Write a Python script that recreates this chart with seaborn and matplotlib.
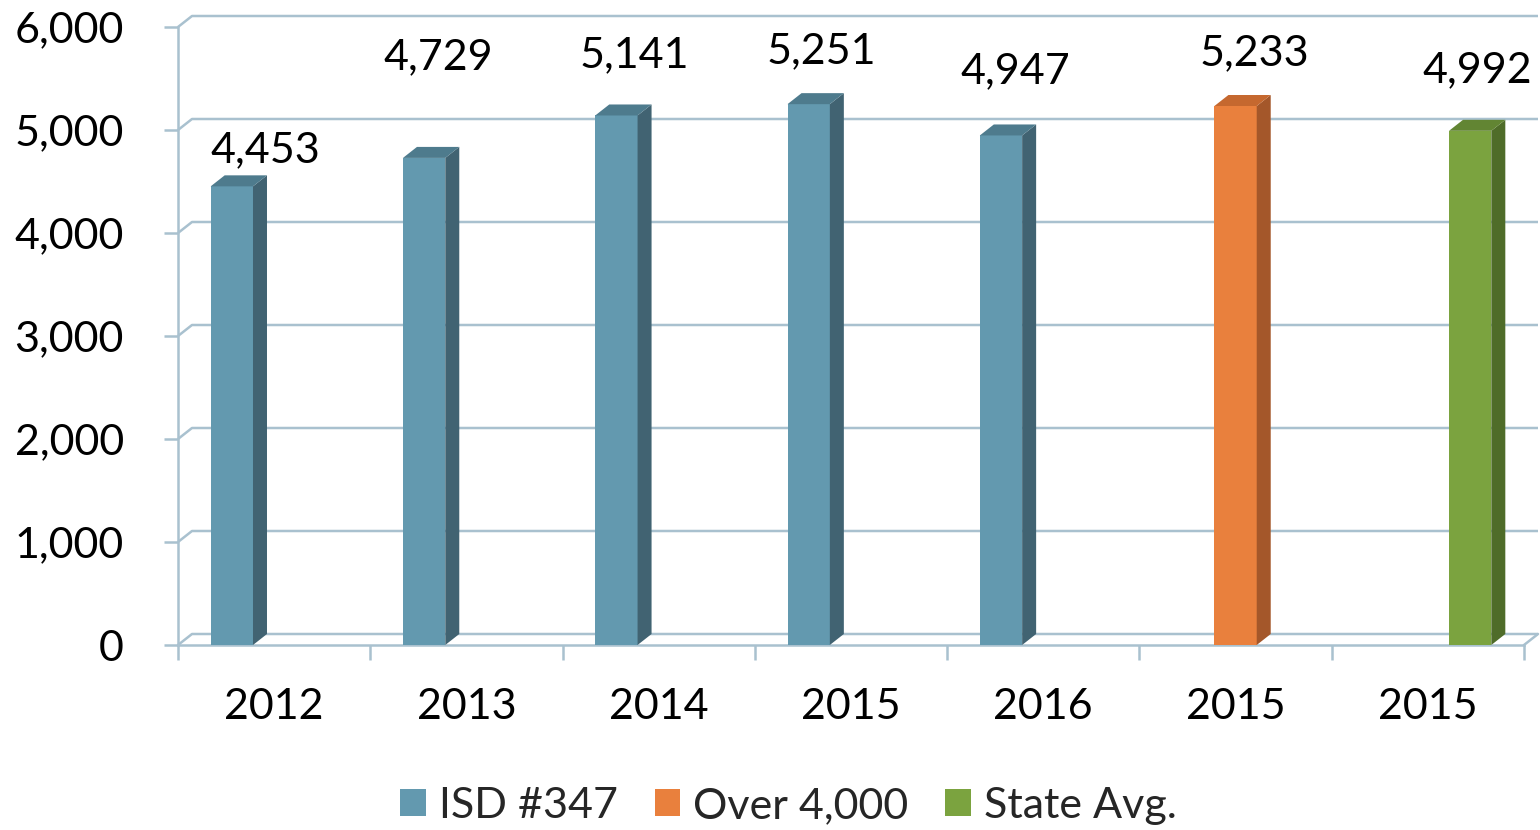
import numpy as np
import pandas as pd
import matplotlib
matplotlib.use("Agg")
import matplotlib.pyplot as plt
import matplotlib.colors as mcolors
from matplotlib.patches import Polygon
import seaborn as sns

# ---------------- data ----------------
categories = ["2012", "2013", "2014", "2015", "2016", "2015", "2015"]
series_names = ["ISD #347", "Over 4,000", "State Avg."]
bar_series = ["ISD #347", "ISD #347", "ISD #347", "ISD #347", "ISD #347",
              "Over 4,000", "State Avg."]
values = [4453, 4729, 5141, 5251, 4947, 5233, 4992]
y_ticks = [0, 1000, 2000, 3000, 4000, 5000, 6000]
y_tick_labels = ["0", "1,000", "2,000", "3,000", "4,000", "5,000", "6,000"]

# ---------------- style / layout ----------------
FRONT = {"ISD #347": "#6399AF", "Over 4,000": "#E9803D", "State Avg.": "#7BA33F"}
SIDE = {"ISD #347": "#416372", "Over 4,000": "#A4572A", "State Avg.": "#4F6C29"}
TOP = {"ISD #347": "#4E7B8D", "Over 4,000": "#C5682F", "State Avg.": "#628533"}
GRID = "#A9C1CF"
LW = 1.8
FS = 31
DEPTH_PX = (14, 11)
# label centre offsets (px) from the top-front centre of each bar
LABEL_DX_PX = [33, 14, 18, 13, 14, 19, 7]
LABEL_DY_PX = [36, 101, 60, 53, 64, 53, 61]

sns.set_theme(style="white")
plt.rcParams["font.family"] = ["Lato", "DejaVu Sans"]

W, H = 1540, 830
fig = plt.figure(figsize=(W / 100, H / 100), dpi=100)
ax = fig.add_axes([178 / W, 1 - 645 / H, (1524 - 178) / W, (645 - 27) / H])

slots = [f"s{i}" for i in range(len(categories))]
df = pd.DataFrame({"slot": slots, "series": bar_series, "value": values})
sns.barplot(data=df, x="slot", y="value", hue="series", order=slots,
            hue_order=series_names, palette=FRONT, dodge=True, width=0.66,
            saturation=1, linewidth=0, errorbar=None, ax=ax, zorder=3)

handles = ax.get_legend().legend_handles
labels = [t.get_text() for t in ax.get_legend().get_texts()]
ax.get_legend().remove()

ax.set_xlim(-0.5, len(categories) - 0.5)
ax.set_ylim(0, 6000)

o = ax.transData.transform((0, 0))
u = ax.transData.transform((1, 1))
ddx = DEPTH_PX[0] / (u[0] - o[0])
ddy = DEPTH_PX[1] / (u[1] - o[1])

# back-wall gridlines + left-wall diagonals
x_lo, x_hi = ax.get_xlim()
for t in y_ticks:
    ax.plot([x_lo, x_lo + ddx, x_hi + ddx], [t, t + ddy, t + ddy],
            color=GRID, lw=LW, clip_on=False, zorder=1,
            solid_capstyle="butt")
ax.plot([x_hi, x_hi + ddx], [0, ddy], color=GRID, lw=LW, clip_on=False, zorder=1)

# 3-D faces for each bar
front_to_series = {mcolors.to_hex(c): s for s, c in FRONT.items()}
bars = [p for p in ax.patches if p.get_height() > 0]
bars.sort(key=lambda p: p.get_x())
for i, p in enumerate(bars):
    x, w, h = p.get_x(), p.get_width(), p.get_height()
    s = front_to_series.get(mcolors.to_hex(p.get_facecolor()), "ISD #347")
    side = Polygon([(x + w, 0), (x + w + ddx, ddy), (x + w + ddx, h + ddy), (x + w, h)],
                   closed=True, facecolor=SIDE[s], edgecolor="none", zorder=3, clip_on=False)
    top = Polygon([(x, h), (x + ddx, h + ddy), (x + w + ddx, h + ddy), (x + w, h)],
                  closed=True, facecolor=TOP[s], edgecolor="none", zorder=3, clip_on=False)
    ax.add_patch(side)
    ax.add_patch(top)
    ax.annotate(f"{values[i]:,}", xy=(x + w / 2, h),
                xytext=(LABEL_DX_PX[i] * 0.72, LABEL_DY_PX[i] * 0.72),
                textcoords="offset points", ha="center", va="center",
                fontsize=FS, color="black", annotation_clip=False)

# axes, ticks
ax.set_yticks(y_ticks, labels=y_tick_labels)
ax.set_xticks(range(len(categories)), labels=categories)
ax.set_xticks(np.arange(-0.5, len(categories), 1.0), minor=True)
ax.tick_params(axis="y", which="major", left=True, direction="out", length=10,
               width=LW, color=GRID, pad=29, labelsize=FS, labelcolor="black")
ax.tick_params(axis="x", which="major", bottom=True, length=0, pad=31,
               labelsize=FS, labelcolor="black")
ax.tick_params(axis="x", which="minor", bottom=True, direction="out",
               length=11, width=LW, color=GRID)
ax.set_xlabel("")
ax.set_ylabel("")
for sp in ["top", "right"]:
    ax.spines[sp].set_visible(False)
for sp in ["left", "bottom"]:
    ax.spines[sp].set_color(GRID)
    ax.spines[sp].set_linewidth(LW)
ax.grid(False)
ax.set_facecolor("none")

fig.legend(handles, labels, loc="center", bbox_to_anchor=(0.512, 0.029),
           ncol=3, frameon=False, fontsize=FS, handlelength=0.6,
           handleheight=0.6, handletextpad=0.3, columnspacing=0.85)

fig.savefig("out.png", dpi=100, facecolor="white")
